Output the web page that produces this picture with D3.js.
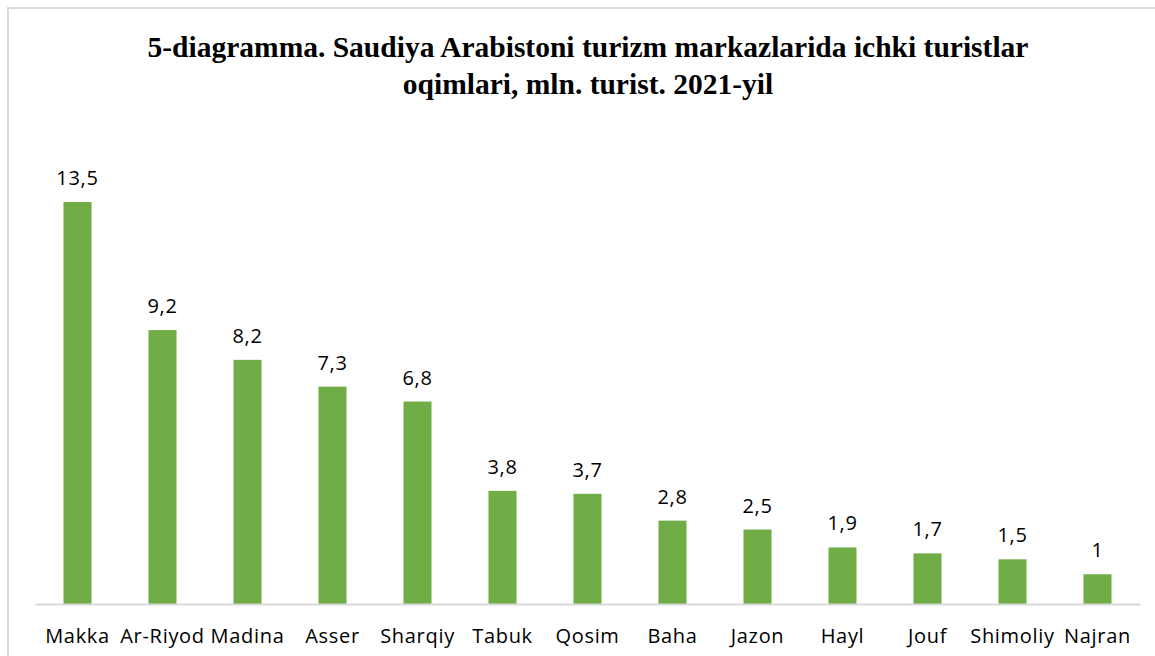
<!DOCTYPE html>
<html>
<head>
<meta charset="utf-8">
<script src="https://cdn.jsdelivr.net/npm/d3@7"></script>
<style>
  html, body { margin: 0; padding: 0; background: #ffffff; }
  svg { display: block; }
</style>
</head>
<body>
<svg id="chart" width="1155" height="656"></svg>
<script>
var regions = ['Makka','Ar-Riyod','Madina','Asser','Sharqiy','Tabuk','Qosim','Baha','Jazon','Hayl','Jouf','Shimoliy','Najran'];
var tourists = [13.5, 9.2, 8.2, 7.3, 6.8, 3.8, 3.7, 2.8, 2.5, 1.9, 1.7, 1.5, 1];
var titleLines = ['5-diagramma. Saudiya Arabistoni turizm markazlarida ichki turistlar',
                  'oqimlari, mln. turist. 2021-yil'];

var width = 1155, height = 656;
var svg = d3.select('#chart');

// chart frame
svg.append('rect')
  .attr('x', 8).attr('y', 8)
  .attr('width', width + 10).attr('height', height + 10)
  .style('fill', '#ffffff')
  .style('stroke', '#d9d9d9')
  .style('stroke-width', 2);

var x = d3.scaleBand().domain(regions).range([35, 1140]).paddingInner(0.67).paddingOuter(0.335);
var y = d3.scaleLinear().domain([0, 16]).range([604, 127.6]);

var title = svg.append('text')
  .attr('x', 588).attr('y', 57)
  .style('font-family', '"Liberation Serif", "Times New Roman", serif')
  .style('font-weight', 'bold')
  .style('font-size', '29.5px')
  .style('text-anchor', 'middle')
  .style('fill', '#000000');
title.selectAll('tspan')
  .data(titleLines)
  .enter()
  .append('tspan')
  .attr('x', 588)
  .attr('dy', (d, i) => i === 0 ? 0 : 37)
  .text(d => d);

var plot = svg.append('g');

plot.selectAll('rect.bar')
  .data(tourists)
  .enter()
  .append('rect')
  .attr('class', 'bar')
  .attr('x', (d, i) => x(regions[i]))
  .attr('y', d => y(d))
  .attr('width', x.bandwidth())
  .attr('height', d => y(0) - y(d))
  .style('fill', '#70ad47');

plot.selectAll('text.val')
  .data(tourists)
  .enter()
  .append('text')
  .attr('class', 'val')
  .attr('x', (d, i) => x(regions[i]) + x.bandwidth() / 2)
  .attr('y', d => y(d) - 17)
  .style('text-anchor', 'middle')
  .style('font-family', '"Open Sans", sans-serif')
  .style('font-size', '20px')
  .style('letter-spacing', '0.7px')
  .style('fill', '#000000')
  .text(d => String(d).replace('.', ','));

var xAxis = d3.axisBottom(x).tickSize(0).tickPadding(25);
var gx = plot.append('g')
  .attr('transform', 'translate(0,' + y(0) + ')')
  .call(xAxis);
gx.select('.domain').style('stroke', '#d9d9d9').style('stroke-width', 2);
gx.selectAll('text')
  .style('font-family', '"Open Sans", sans-serif')
  .style('font-size', '20px')
  .style('letter-spacing', '0.7px')
  .style('fill', '#000000');
</script>
</body>
</html>
